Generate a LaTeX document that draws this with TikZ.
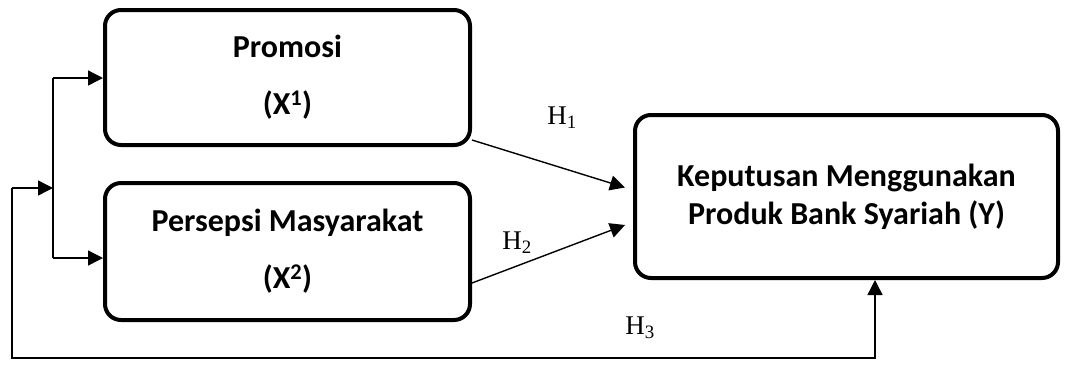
\documentclass[tikz,border=0pt]{standalone}
\usepackage{fontspec}
\setmainfont{Liberation Serif}
\newfontfamily\boxfont{Carlito}
\usetikzlibrary{arrows.meta,positioning}

\begin{document}
\begin{tikzpicture}[x=1pt,y=-1pt,
  var/.style={draw,line width=4pt,rounded corners=16pt,align=center,
    font=\boxfont\bfseries\fontsize{32}{38}\selectfont,inner sep=0pt},
  link/.style={line width=1.4pt,-{Triangle[length=15pt,width=15pt]}},
  wire/.style={line width=1.4pt},
  hyp/.style={font=\fontsize{27}{30}\selectfont}]
\useasboundingbox (0,0) rectangle (1067,368);

%============================ variables ============================
\node[var,minimum width=365pt,minimum height=135pt] (X1) at (287.5,77.5)
  {Promosi\\[19pt](X\textsuperscript{1})};
\node[var,minimum width=365pt,minimum height=137pt] (X2) at (287.5,251.5)
  {Persepsi Masyarakat\\[19pt](X\textsuperscript{2})};
\node[var,minimum width=423pt,minimum height=163pt] (Y) at (846.5,196.5)
  {Keputusan Menggunakan\\Produk Bank Syariah (Y)};

% --- bracket feeding both X boxes ---
\coordinate (b1) at (53,78);
\coordinate (b2) at (53,258);
\coordinate (bm) at (53,188);
\draw[wire] (b1) -- (b2);
\draw[link] (b1) -- (b1 -| X1.west);
\draw[link] (b2) -- (b2 -| X2.west);

% --- joint effect loop (H3) ---
\coordinate (f0) at (12,188);
\coordinate (f1) at (12,358);
\coordinate (f2) at (875,358);
\draw[link] (f0) -- (bm);
\draw[link] (f0) -- (f1) -- (f2) -- (f2 |- Y.south);

% --- partial effects ---
\draw[link] ([yshift=7pt]X1.south east) -- ([xshift=-8pt,yshift=9pt]Y.west);
\draw[link] ([yshift=-31.5pt]X2.east) -- ([xshift=-8pt,yshift=-28.5pt]Y.west);

% hypothesis labels
\node[hyp] (h1) at (562,118) {H\textsubscript{1}};
\node[hyp] (h2) at (517,243) {H\textsubscript{2}};
\node[hyp] (h3) at (640,328) {H\textsubscript{3}};
\end{tikzpicture}
\end{document}
